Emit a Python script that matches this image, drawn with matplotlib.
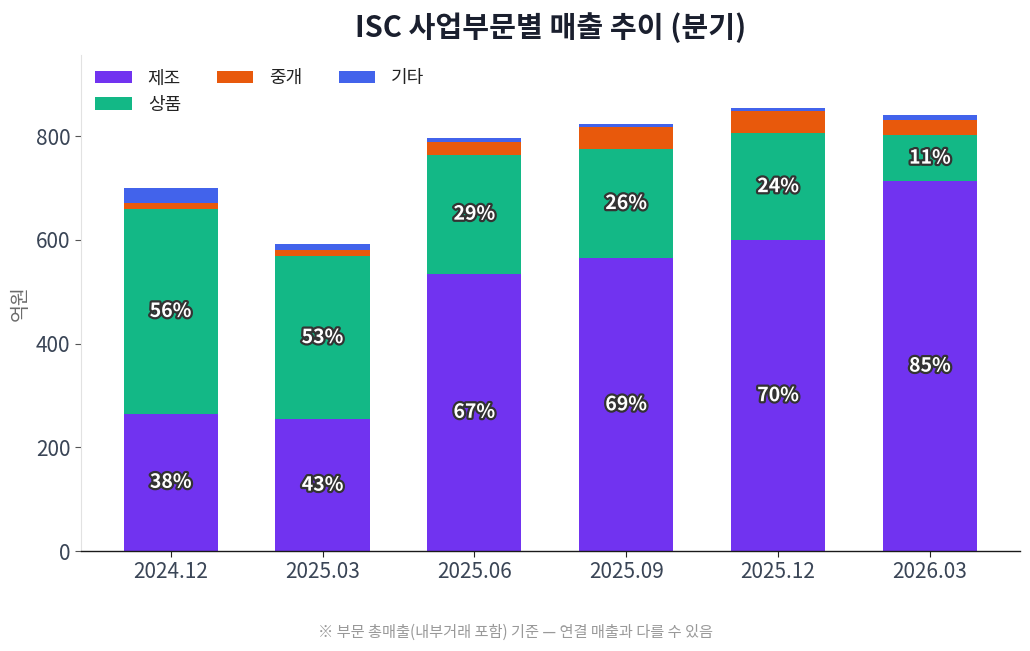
import matplotlib
matplotlib.use("Agg")
import matplotlib.pyplot as plt
import matplotlib.patheffects as pe
import numpy as np

plt.rcParams['font.family'] = ['Noto Sans CJK KR', 'DejaVu Sans']

quarters = ["2024.12", "2025.03", "2025.06", "2025.09", "2025.12", "2026.03"]
seg_names = ["제조", "상품", "중개", "기타"]
manufacturing = [265, 254, 535, 564, 599, 713]
merchandise = [394, 315, 229, 212, 207, 89]
brokerage = [12, 12, 24, 42, 42, 30]
other = [28, 10, 8, 5, 6, 8]
colors = ["#7133f0", "#13b886", "#e8590c", "#4263eb"]

title = "ISC 사업부문별 매출 추이 (분기)"
ylabel = "억원"
footnote = "※ 부문 총매출(내부거래 포함) 기준 — 연결 매출과 다를 수 있음"

fig = plt.figure(figsize=(10.30, 6.51), dpi=100)
ax = fig.add_axes([0.0786, 0.1536, 0.9114, 0.762])

x = np.arange(len(quarters))
series = [manufacturing, merchandise, brokerage, other]
bottom = np.zeros(len(quarters))
totals = np.sum(np.array(series), axis=0)
width = 0.62
for name, vals, col in zip(seg_names, series, colors):
    vals = np.array(vals, dtype=float)
    ax.bar(x, vals, width, bottom=bottom, color=col, label=name, linewidth=0)
    if name in ("제조", "상품"):
        for xi, b, v, t in zip(x, bottom, vals, totals):
            pct = v / t * 100
            ax.text(xi, b + v / 2, f"{pct:.0f}%", ha="center", va="center",
                    color="white", fontsize=14, fontweight="bold",
                    path_effects=[pe.withStroke(linewidth=3.2, foreground="#333333")])
    bottom += vals

ax.set_ylim(0, totals.max() * 1.12)
ax.set_xticks(x)
ax.set_xticklabels(quarters)
ax.set_yticks([0, 200, 400, 600, 800])
ax.tick_params(axis="both", labelsize=15, length=4, width=0.8)
ax.tick_params(axis="y", color="#555555")
ax.tick_params(axis="x", color="#222222")
for lab in ax.get_xticklabels() + ax.get_yticklabels():
    lab.set_color("#3a4556")

ax.spines["top"].set_visible(False)
ax.spines["right"].set_visible(False)
ax.spines["left"].set_color("#e2e2e2")
ax.spines["bottom"].set_color("#1a1a1a")
ax.spines["bottom"].set_linewidth(1.0)

ax.set_ylabel(ylabel, fontsize=14, color="#6b6b6b", labelpad=4)
ax.set_title(title, fontsize=21, fontweight="bold", color="#1a1f2e", pad=13)

leg = ax.legend(loc="upper left", ncol=3, frameon=False, fontsize=13,
                handlelength=2.0, handleheight=0.7, columnspacing=2.0,
                handletextpad=0.9, borderaxespad=0.4, labelspacing=0.45)
for t in leg.get_texts():
    t.set_color("#222222")

fig.text(0.5, 0.028, footnote, ha="center", va="center", fontsize=11, color="#999999")

fig.savefig("out.png", dpi=100)
